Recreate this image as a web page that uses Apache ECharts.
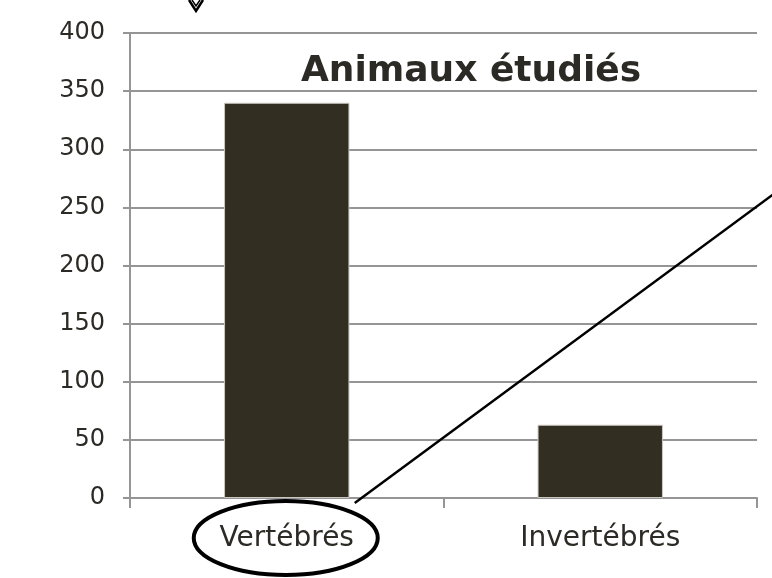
<!DOCTYPE html>
<html><head><meta charset="utf-8">
<script src="https://cdn.jsdelivr.net/npm/echarts@6/dist/echarts.min.js"></script>
<style>html,body{margin:0;padding:0;background:#fff}#c{width:772px;height:578px}</style>
</head><body><div id="c"></div>
<script>
const categories = ['Vertébrés', 'Invertébrés'];
const values = [340, 63];
const titleText = 'Animaux étudiés';
const yMin = 0, yMax = 400, yStep = 50;

const chart = echarts.init(document.getElementById('c'));
const FONT = 'DejaVu Sans';
const GRID = '#959595';
chart.setOption({
  animation: false,
  backgroundColor: '#fff',
  title: {
    text: titleText, left: 466, top: 49, textAlign: 'center',
    textStyle: {fontFamily: FONT, fontWeight: 'bold', fontSize: 36, color: '#2b2a25'}
  },
  grid: {left: 130, right: 15, top: 33, bottom: 80},
  xAxis: {
    type: 'category', data: categories,
    axisLine: {lineStyle: {color: GRID, width: 2}},
    axisTick: {show: true, length: 10, lineStyle: {color: GRID, width: 2}},
    axisLabel: {fontFamily: FONT, fontSize: 28, color: '#2b2a25', margin: 27}
  },
  yAxis: {
    type: 'value', min: yMin, max: yMax, interval: yStep,
    axisLine: {show: true, lineStyle: {color: GRID, width: 2}},
    axisTick: {show: true, length: 7, lineStyle: {color: GRID, width: 2}},
    splitLine: {lineStyle: {color: GRID, width: 2}},
    axisLabel: {fontFamily: FONT, fontSize: 24, color: '#2b2a25', margin: 25, padding: [3, 0, 0, 0]}
  },
  series: [{
    type: 'bar', data: values, barWidth: '40%',
    itemStyle: {color: '#332e22', borderColor: '#c9c7bf', borderWidth: 1}
  }]
});

const cx = chart.convertToPixel({xAxisIndex: 0}, categories[0]);
const y0 = chart.convertToPixel({yAxisIndex: 0}, 0);
chart.setOption({
  graphic: [
    {type: 'ellipse', shape: {cx: cx - 1, cy: y0 + 40, rx: 92, ry: 37},
     style: {fill: 'none', stroke: '#000', lineWidth: 4}, z: 100},
    {type: 'line', shape: {x1: cx + 68, y1: y0 + 5, x2: 790, y2: 182},
     style: {stroke: '#000', lineWidth: 2.5}, z: 100},
    {type: 'polyline', shape: {points: [[189, 0], [196, 11], [203, 0]]},
     style: {fill: 'none', stroke: '#000', lineWidth: 2.5}, z: 100},
    {type: 'polyline', shape: {points: [[192, 0], [196, 6], [200, 0]]},
     style: {fill: 'none', stroke: '#000', lineWidth: 1.5}, z: 100}
  ]
});
</script></body></html>
